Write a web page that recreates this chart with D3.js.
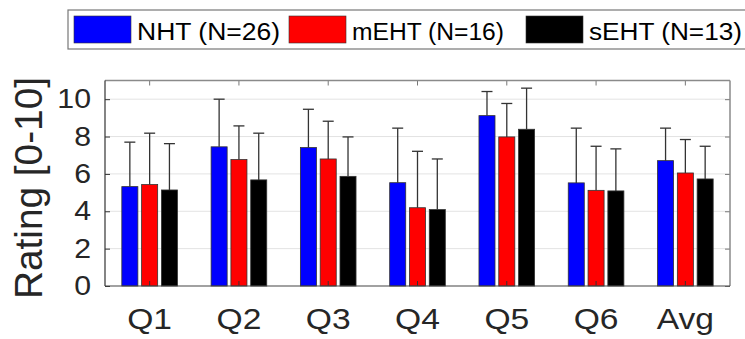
<!DOCTYPE html>
<html>
<head>
<meta charset="utf-8">
<script src="https://cdn.jsdelivr.net/npm/d3@7"></script>
<style>
  body { margin: 0; background: #fff; }
  svg { display: block; font-family: Arial, "Liberation Sans", Helvetica, sans-serif; }
</style>
</head>
<body>
<svg id="chart" width="745" height="339"></svg>
<script>
const categories = ["Q1", "Q2", "Q3", "Q4", "Q5", "Q6", "Avg"];
const seriesNames = ["NHT (N=26)", "mEHT (N=16)", "sEHT (N=13)"];
const seriesColors = ["#0000ff", "#ff0000", "#000000"];
const nhtMean = [5.32, 7.45, 7.41, 5.53, 9.12, 5.52, 6.71];
const nhtSd = [2.38, 2.55, 2.05, 2.92, 1.29, 2.93, 1.74];
const mehtMean = [5.43, 6.77, 6.80, 4.19, 7.98, 5.12, 6.05];
const mehtSd = [2.75, 1.80, 2.02, 3.02, 1.79, 2.36, 1.79];
const sehtMean = [5.14, 5.68, 5.87, 4.09, 8.39, 5.09, 5.73];
const sehtSd = [2.48, 2.50, 2.11, 2.71, 2.20, 2.25, 1.75];
const yTicks = [0, 2, 4, 6, 8, 10];

const means = [nhtMean, mehtMean, sehtMean];
const sds = [nhtSd, mehtSd, sehtSd];

const margin = { top: 80.5, right: 15, bottom: 53, left: 105 };
const width = 745, height = 339;
const svg = d3.select("#chart");

// the picture is a bit wider than a normal font, so stretch text horizontally
function stretch(sel, k) {
  sel.each(function() {
    const w = this.getComputedTextLength();
    d3.select(this)
      .attr("textLength", w * k)
      .attr("lengthAdjust", "spacingAndGlyphs");
  });
}

const x = d3.scaleBand()
  .domain(categories)
  .range([margin.left, width - margin.right]);

const xInner = d3.scaleBand()
  .domain(seriesNames)
  .range([-29.7, 29.7])
  .paddingInner(0.19)
  .paddingOuter(0.095);

const y = d3.scaleLinear()
  .domain([0, 11])
  .range([height - margin.bottom, margin.top]);

const x0 = margin.left, x1 = width - margin.right;
const y0 = y(0), y1 = y(11);

// grid
svg.append("g")
  .selectAll("line")
  .data(yTicks.filter(d => d > 0))
  .join("line")
  .attr("x1", x0).attr("x2", x1)
  .attr("y1", d => y(d)).attr("y2", d => y(d))
  .attr("stroke", "#e3e3e3")
  .attr("stroke-width", 1);

// bars
const rows = [];
categories.forEach((c, i) => {
  seriesNames.forEach((s, j) => {
    rows.push({ cat: c, series: s, j: j, mean: means[j][i], sd: sds[j][i] });
  });
});

const cx = d => x(d.cat) + x.bandwidth() / 2 + xInner(d.series);

svg.append("g")
  .selectAll("rect")
  .data(rows)
  .join("rect")
  .attr("x", d => cx(d))
  .attr("y", d => y(d.mean))
  .attr("width", xInner.bandwidth())
  .attr("height", d => y(0) - y(d.mean))
  .attr("fill", d => seriesColors[d.j])
  .attr("stroke", "#333")
  .attr("stroke-width", 0.8);

// error bars (upper only)
const err = svg.append("g").attr("stroke", "#333").attr("stroke-width", 1.3);
err.selectAll("line.stem")
  .data(rows)
  .join("line")
  .attr("class", "stem")
  .attr("x1", d => cx(d) + xInner.bandwidth() / 2)
  .attr("x2", d => cx(d) + xInner.bandwidth() / 2)
  .attr("y1", d => y(d.mean))
  .attr("y2", d => y(d.mean + d.sd));
err.selectAll("line.cap")
  .data(rows)
  .join("line")
  .attr("class", "cap")
  .attr("x1", d => cx(d) + xInner.bandwidth() / 2 - 5.5)
  .attr("x2", d => cx(d) + xInner.bandwidth() / 2 + 5.5)
  .attr("y1", d => y(d.mean + d.sd))
  .attr("y2", d => y(d.mean + d.sd));

// axes box
const yAxis = d3.axisLeft(y).tickValues(yTicks).tickSizeInner(-5).tickSizeOuter(0).tickPadding(14);
const gy = svg.append("g").attr("transform", `translate(${x0},0)`).call(yAxis);
gy.select(".domain").remove();
gy.selectAll(".tick line").attr("stroke", "#333");
gy.selectAll(".tick text")
  .attr("font-size", 27)
  .attr("fill", "#262626")
  .attr("font-family", null)
  .call(stretch, 1.12);

const yAxisR = d3.axisRight(y).tickValues(yTicks).tickSizeInner(-5).tickSizeOuter(0).tickFormat("");
const gyr = svg.append("g").attr("transform", `translate(${x1},0)`).call(yAxisR);
gyr.select(".domain").remove();
gyr.selectAll(".tick line").attr("stroke", "#777");

const xAxis = d3.axisBottom(x).tickSizeInner(-5).tickSizeOuter(0).tickPadding(22);
const gx = svg.append("g").attr("transform", `translate(0,${y0})`).call(xAxis);
gx.select(".domain").remove();
gx.selectAll(".tick line").attr("stroke", "#333");
gx.selectAll(".tick text")
  .attr("font-size", 30)
  .attr("fill", "#262626")
  .attr("font-family", null)
  .call(stretch, 1.12);

const xAxisT = d3.axisTop(x).tickSizeInner(-5).tickSizeOuter(0).tickFormat("");
const gxt = svg.append("g").attr("transform", `translate(0,${y1})`).call(xAxisT);
gxt.select(".domain").remove();
gxt.selectAll(".tick line").attr("stroke", "#777");

// frame lines
svg.append("line").attr("x1", x0).attr("x2", x1).attr("y1", y1).attr("y2", y1).attr("stroke", "#8a8a8a").attr("stroke-width", 1.5);
svg.append("line").attr("x1", x1).attr("x2", x1).attr("y1", y1).attr("y2", y0).attr("stroke", "#8a8a8a").attr("stroke-width", 1.5);
svg.append("line").attr("x1", x0).attr("x2", x1).attr("y1", y0).attr("y2", y0).attr("stroke", "#444").attr("stroke-width", 1.2);
svg.append("line").attr("x1", x0).attr("x2", x0).attr("y1", y1).attr("y2", y0).attr("stroke", "#333").attr("stroke-width", 1.2);

// y label
svg.append("text")
  .attr("transform", `translate(42,188) rotate(-90)`)
  .attr("text-anchor", "middle")
  .attr("font-size", 38)
  .attr("fill", "#262626")
  .text("Rating [0-10]")
  .attr("textLength", 222)
  .attr("lengthAdjust", "spacingAndGlyphs");

// legend
const legend = svg.append("g");
legend.append("rect")
  .attr("x", 68).attr("y", 10)
  .attr("width", 690).attr("height", 39)
  .attr("fill", "#fff")
  .attr("stroke", "#777")
  .attr("stroke-width", 1.2);

const legendX = [74, 289, 526];
const legendTextW = [143, 152, 153];
const items = legend.selectAll("g.item")
  .data(seriesNames)
  .join("g")
  .attr("class", "item")
  .attr("transform", (d, i) => `translate(${legendX[i]},0)`);
items.append("rect")
  .attr("x", 0).attr("y", 16)
  .attr("width", 57).attr("height", 27)
  .attr("fill", (d, i) => seriesColors[i])
  .attr("stroke", "#333")
  .attr("stroke-width", 0.6);
items.append("text")
  .attr("x", 63).attr("y", 39.5)
  .attr("font-size", 23)
  .attr("fill", "#000")
  .text(d => d)
  .attr("textLength", (d, i) => legendTextW[i])
  .attr("lengthAdjust", "spacingAndGlyphs");
</script>
</body>
</html>
